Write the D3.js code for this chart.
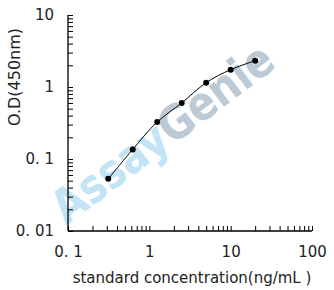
<!DOCTYPE html>
<html>
<head>
<meta charset="utf-8">
<script src="https://cdn.jsdelivr.net/npm/d3@7"></script>
<style>
    body { margin: 0; background: #fff; }
    text { font-family: "DejaVu Sans", sans-serif; }
</style>
</head>
<body>
<div class="chart"></div>
<script>
// standard curve points
var concentrations = [0.3125, 0.625, 1.25, 2.5, 5, 10, 20];
var odValues = [0.053, 0.136, 0.327, 0.60, 1.15, 1.74, 2.32];
var xTickValues = [0.1, 1, 10, 100];
var xTickLabels = ["0. 1", "1", "10", "100"];
var yTickValues = [0.01, 0.1, 1, 10];
var yTickLabels = ["0. 01", "0. 1", "1", "10"];

var width = 334;
var height = 290;

var svg = d3.select('.chart')
    .append('svg')
    .attr('width', width)
    .attr('height', height);

var x = d3.scaleLog().domain([0.1, 100]).range([68, 312]);
var y = d3.scaleLog().domain([0.01, 10]).range([231, 15]);

//watermark behind everything
var wm = svg.append('text')
    .attr('transform', 'translate(172,146) rotate(-37)')
    .attr('text-anchor', 'middle')
    .attr('font-family', '"Liberation Sans", Arial, sans-serif')
    .attr('font-weight', 'bold')
    .attr('font-size', 47)
    .attr('textLength', 265)
    .attr('lengthAdjust', 'spacingAndGlyphs');
wm.append('tspan').attr('fill', '#c2e4f6').text('Assay');
wm.append('tspan').attr('fill', '#bccad6').text('Genie');

//all minor + major tick positions
function logTicks(lo, hi) {
    var out = [];
    for (var e = lo; e < hi; e++) {
        for (var m = 1; m < 10; m++) out.push(m * Math.pow(10, e));
    }
    out.push(Math.pow(10, hi));
    return out;
}

function labelFor(values, labels) {
    return function(d) {
        var i = values.findIndex(function(v) { return Math.abs(v - d) / v < 1e-6; });
        return i < 0 ? '' : labels[i];
    };
}

var xAxis = d3.axisBottom(x)
    .tickValues(logTicks(-1, 2))
    .tickSize(-5)
    .tickPadding(15)
    .tickFormat(labelFor(xTickValues, xTickLabels));

var yAxis = d3.axisLeft(y)
    .tickValues(logTicks(-2, 1))
    .tickSize(-5)
    .tickPadding(14)
    .tickFormat(labelFor(yTickValues, yTickLabels));

var gx = svg.append('g')
    .attr('transform', 'translate(0,231)')
    .call(xAxis);
var gy = svg.append('g')
    .attr('transform', 'translate(68,0)')
    .call(yAxis);

[gx, gy].forEach(function(g) {
    g.select('.domain').attr('stroke', '#000').attr('stroke-width', 1.3);
    g.selectAll('.tick line').attr('stroke', '#000').attr('stroke-width', 1);
    g.selectAll('.tick text')
        .attr('fill', '#222')
        .attr('font-size', 15)
        .attr('font-family', '"DejaVu Sans", sans-serif');
});
gx.select('.domain').attr('d', 'M68,0H312');
gy.select('.domain').attr('d', 'M0,15V231');

//fitted curve through the standards
var pts = concentrations.map(function(c, i) { return [x(c), y(odValues[i])]; });
svg.append('path')
    .attr('d', d3.line().curve(d3.curveCatmullRom)(pts))
    .attr('fill', 'none')
    .attr('stroke', '#000')
    .attr('stroke-width', 1);

svg.selectAll('.dot')
    .data(pts)
    .enter()
    .append('circle')
    .attr('class', 'dot')
    .attr('cx', function(d) { return d[0]; })
    .attr('cy', function(d) { return d[1]; })
    .attr('r', 3)
    .attr('fill', '#000');

//axis titles
svg.append('text')
    .attr('x', 192)
    .attr('y', 283)
    .attr('text-anchor', 'middle')
    .attr('font-size', 15)
    .attr('fill', '#222')
    .text('standard concentration(ng/mL )');

svg.append('text')
    .attr('transform', 'translate(20,77) rotate(-90)')
    .attr('text-anchor', 'middle')
    .attr('font-size', 16)
    .attr('fill', '#222')
    .text('O.D(450nm)');
</script>
</body>
</html>
